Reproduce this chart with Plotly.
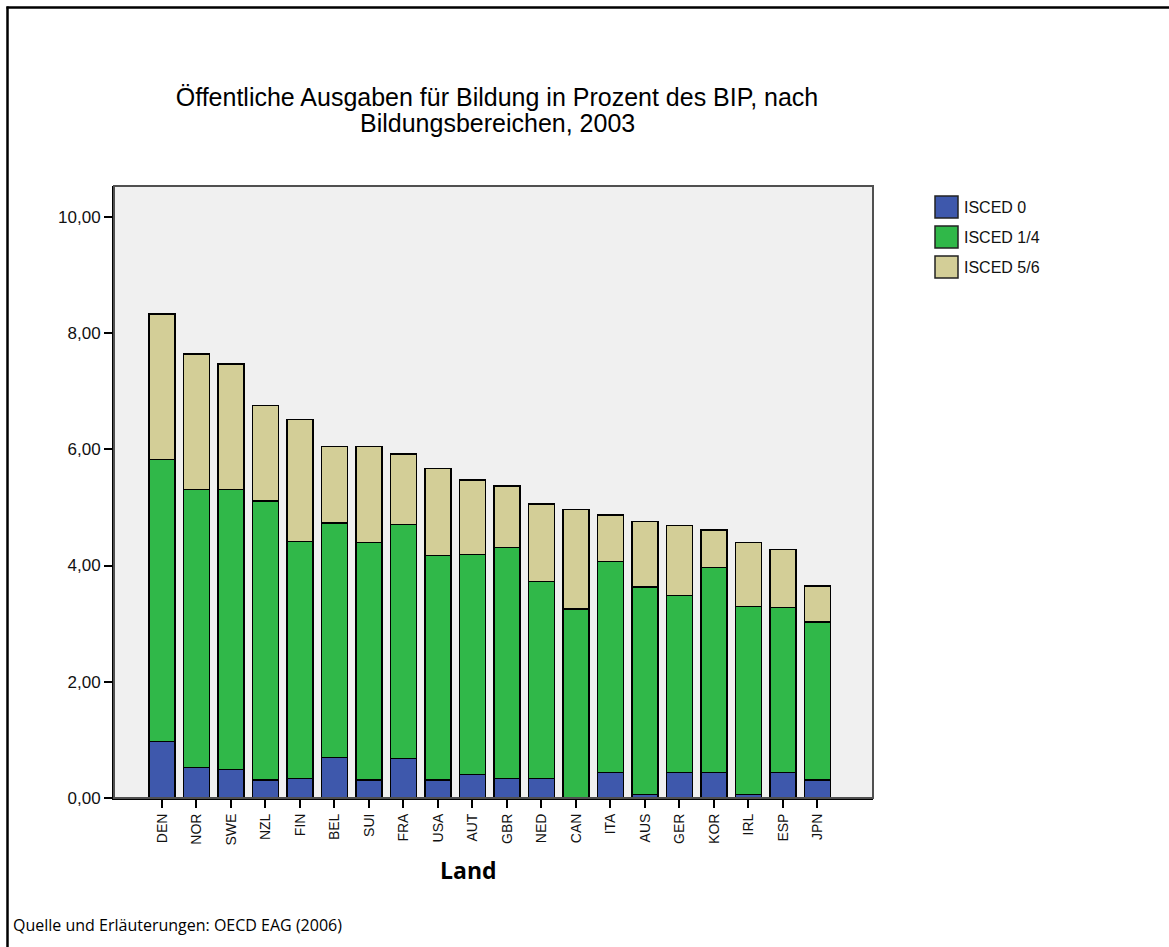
import plotly.graph_objects as go

laender = ["DEN", "NOR", "SWE", "NZL", "FIN", "BEL", "SUI", "FRA", "USA", "AUT",
           "GBR", "NED", "CAN", "ITA", "AUS", "GER", "KOR", "IRL", "ESP", "JPN"]

# obere Kanten der Segmente (kumuliert)
isced0_top = [0.97, 0.52, 0.49, 0.31, 0.34, 0.70, 0.31, 0.68, 0.31, 0.41,
              0.34, 0.34, 0.0, 0.44, 0.06, 0.44, 0.44, 0.06, 0.44, 0.31]
isced14_top = [5.83, 5.31, 5.31, 5.11, 4.41, 4.73, 4.40, 4.71, 4.17, 4.19,
               4.31, 3.73, 3.25, 4.07, 3.63, 3.49, 3.97, 3.30, 3.28, 3.03]
gesamt = [8.33, 7.64, 7.47, 6.75, 6.51, 6.05, 6.05, 5.92, 5.67, 5.47,
          5.37, 5.06, 4.96, 4.87, 4.76, 4.69, 4.61, 4.40, 4.28, 3.65]

isced0 = isced0_top
isced14 = [round(g - b, 2) for g, b in zip(isced14_top, isced0_top)]
isced56 = [round(t - g, 2) for t, g in zip(gesamt, isced14_top)]

namen = ["ISCED 0", "ISCED 1/4", "ISCED 5/6"]
farben = ["#3e58ac", "#30b849", "#d3ce97"]
serien = [isced0, isced14, isced56]

titel = ["Öffentliche Ausgaben für Bildung in Prozent des BIP, nach",
         "Bildungsbereichen, 2003"]

# plot area in pixels
L, R, T, B = 114, 873, 186, 798
W, H = 1169, 947
pw, ph = R - L, B - T

def px(x):
    return (x - L) / pw

def py(y):
    return (B - y) / ph

fig = go.Figure()
for name, col, vals in zip(namen, farben, serien):
    fig.add_trace(go.Bar(x=laender, y=vals, name=name, marker_color=col,
                         marker_line=dict(color="black", width=1.3),
                         showlegend=False))

shapes = [
    # rahmen um plot
    dict(type="rect", xref="paper", yref="paper", x0=0, x1=1, y0=0, y1=1,
         line=dict(color="#505050", width=2), layer="above"),
    # aeusserer rahmen links + oben
    dict(type="line", xref="paper", yref="paper", x0=px(7.5), x1=px(7.5),
         y0=py(6.5), y1=py(960), line=dict(color="black", width=2.5)),
    dict(type="line", xref="paper", yref="paper", x0=px(6.5), x1=px(1180),
         y0=py(7.5), y1=py(7.5), line=dict(color="black", width=2.5)),
]
annotations = []
# legende von hand (groessere boxen wie im original)
for i, (name, col) in enumerate(zip(namen, farben)):
    y0 = 196 + i * 30
    shapes.append(dict(type="rect", xref="paper", yref="paper",
                       x0=px(935), x1=px(958), y0=py(y0 + 22), y1=py(y0),
                       fillcolor=col, line=dict(color="#222", width=1.5)))
    annotations.append(dict(text=name, xref="paper", yref="paper",
                            x=px(962), y=py(y0 + 11), xanchor="left", yanchor="middle",
                            showarrow=False,
                            font=dict(family="Liberation Sans", size=16, color="#111")))

# titel, zwei zeilen mit engem zeilenabstand
annotations.append(dict(text=titel[1], xref="paper", yref="paper",
                        x=px(497), y=py(123), xanchor="center", yanchor="middle",
                        showarrow=False,
                        font=dict(family="Liberation Sans", size=25, color="black")))
annotations.append(dict(text="<b>Land</b>", xref="paper", yref="paper",
                        x=px(468), y=py(870), xanchor="center", yanchor="middle",
                        showarrow=False,
                        font=dict(family="Open Sans", size=23, color="black")))
annotations.append(dict(text="Quelle und Erläuterungen: OECD EAG (2006)",
                        xref="paper", yref="paper", x=px(11), y=py(925),
                        xanchor="left", yanchor="middle", showarrow=False,
                        font=dict(family="Open Sans", size=16, color="black")))

fig.update_layout(
    width=W, height=H,
    margin=dict(l=L, r=W - R, t=T, b=H - B, autoexpand=False),
    barmode="stack", bargap=0.25,
    separators=",.",
    paper_bgcolor="white", plot_bgcolor="#f0f0f0",
    title=dict(text=titel[0],
               xref="container", x=497 / W, xanchor="center", y=1 - 97 / H, yanchor="middle",
               font=dict(family="Liberation Sans", size=25, color="black")),
    shapes=shapes, annotations=annotations,
    font=dict(family="Liberation Sans", color="#222"),
)
fig.update_xaxes(range=[-1.39, 20.61], tickangle=-90, ticks="outside", ticklen=8,
                 tickcolor="black", tickwidth=2, showline=True, linecolor="black",
                 linewidth=2, showgrid=False, tickfont=dict(size=14, color="#111"))
fig.update_yaxes(range=[0, 10.53], tick0=0, dtick=2, tickformat=".2f", ticks="outside",
                 ticklen=8, tickcolor="black", tickwidth=2, showline=True, linecolor="black",
                 linewidth=2, showgrid=False, zeroline=False,
                 tickfont=dict(size=17, color="#111"))

fig.write_html("out.html", config={"displayModeBar": False},
               post_script="document.body.style.margin='0';document.body.style.overflow='hidden';")
